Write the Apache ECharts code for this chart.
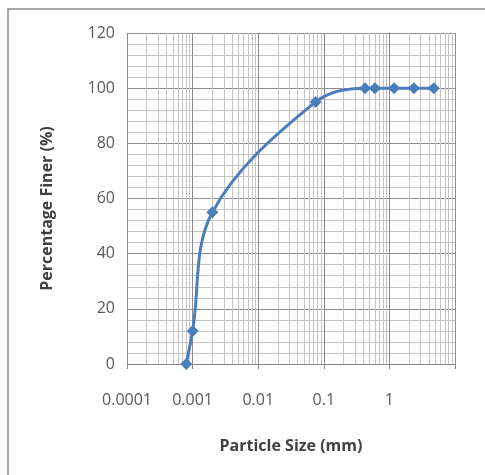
<!DOCTYPE html>
<html>
<head>
<meta charset="utf-8">
<script src="https://cdn.jsdelivr.net/npm/echarts@6/dist/echarts.min.js"></script>
<style>
  html, body { margin: 0; padding: 0; background: #fff; }
  #main { width: 485px; height: 475px; }
</style>
</head>
<body>
<div id="main"></div>
<script>
// particle size (mm) and percentage finer
const particleSize = [0.0008, 0.001, 0.002, 0.075, 0.425, 0.6, 1.18, 2.36, 4.75]
const percentFiner = [0, 12, 55, 95, 100, 100, 100, 100, 100]

// decade ticks and their labels (the 10 label is not shown)
const xTicks = [0.0001, 0.001, 0.01, 0.1, 1, 10]
const xTickLabels = ['0.0001', '0.001', '0.01', '0.1', '1', '']
const minorSteps = [2, 3, 4, 5, 6, 7, 8, 9]

// minor log grid lines 2..9 in each decade, placed on a hidden linear axis of log10(x)
// (scaled by 1000 so markLine rounding does not move them)
const LOG_SCALE = 1000
const logMin = Math.log10(xTicks[0])
const logMax = Math.log10(xTicks[xTicks.length - 1])
const minorLines = []
xTicks.slice(0, -1).forEach(d => {
  minorSteps.forEach(m => minorLines.push({ xAxis: Math.log10(d * m) * LOG_SCALE }))
})

const myChart = echarts.init(document.getElementById('main'))
const options = {
  animation: false,
  textStyle: { fontFamily: 'Open Sans' },
  graphic: [{
    type: 'rect',
    shape: { x: 8, y: 9, width: 500, height: 500 },
    style: { fill: 'none', stroke: '#8a8a8a', lineWidth: 1.5 },
    silent: true
  }],
  grid: {
    left: 127,
    right: 30,
    top: 33,
    bottom: 111
  },
  xAxis: [{
    type: 'log',
    min: 0.0001,
    max: 10,
    logBase: 10,
    name: 'Particle Size (mm)',
    nameLocation: 'middle',
    nameGap: 74,
    nameTextStyle: { fontSize: 16, fontWeight: 'bold', color: '#404040' },
    axisLine: { lineStyle: { color: '#868686' } },
    axisTick: { show: true, length: 5, lineStyle: { color: '#868686' } },
    axisLabel: {
      fontSize: 16,
      color: '#595959',
      margin: 28,
      formatter: v => {
        const i = xTicks.findIndex(t => Math.abs(Math.log10(t) - Math.log10(v)) < 1e-6)
        return i >= 0 ? xTickLabels[i] : ''
      }
    },
    splitLine: { show: true, lineStyle: { color: '#8c8c8c', width: 1 } },
    z: 3
  }, {
    type: 'value',
    min: logMin * LOG_SCALE,
    max: logMax * LOG_SCALE,
    show: false,
    splitLine: { show: false }
  }],
  yAxis: {
    type: 'value',
    min: 0,
    max: 120,
    interval: 20,
    name: 'Percentage Finer (%)',
    nameLocation: 'middle',
    nameGap: 72,
    nameTextStyle: { fontSize: 16, fontWeight: 'bold', color: '#404040', padding: [0, 20, 0, 0] },
    axisLine: { show: true, lineStyle: { color: '#868686' } },
    axisTick: { show: true, length: 5, lineStyle: { color: '#868686' } },
    axisLabel: { fontSize: 16, color: '#595959', margin: 12 },
    splitLine: { show: true, lineStyle: { color: '#8c8c8c', width: 1 } },
    minorTick: { show: false, splitNumber: 5 },
    minorSplitLine: { show: true, lineStyle: { color: '#c4c4c4', width: 1 } }
  },
  series: [
    {
      name: 'minor grid',
      type: 'line',
      xAxisIndex: 1,
      data: [],
      silent: true,
      z: 1,
      markLine: {
        silent: true,
        symbol: 'none',
        precision: 6,
        label: { show: false },
        lineStyle: { color: '#c4c4c4', width: 1, type: 'solid' },
        data: minorLines
      }
    },
    {
      name: 'Percentage Finer',
      type: 'line',
      smooth: 0.35,
      data: particleSize.map((x, i) => [x, percentFiner[i]]),
      symbol: 'diamond',
      symbolSize: 12,
      itemStyle: { color: '#4a7ebb' },
      lineStyle: { color: '#4a7ebb', width: 3 },
      z: 5
    }
  ]
}
myChart.setOption(options)
</script>
</body>
</html>
